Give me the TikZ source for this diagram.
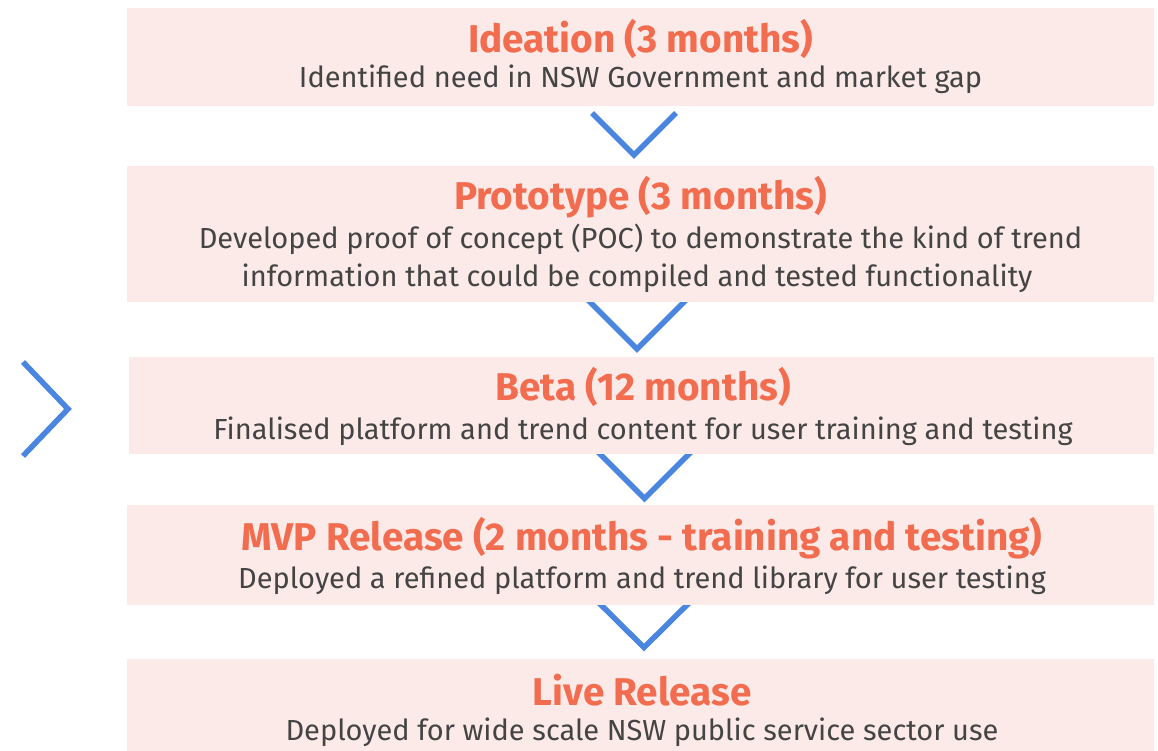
\documentclass[tikz,border=0pt]{standalone}
\usepackage{fontspec}
\setmainfont{Fira Sans}
\definecolor{boxpink}{HTML}{FBEAE7}
\definecolor{titleorange}{HTML}{F26C4F}
\definecolor{bodygrey}{HTML}{444444}
\definecolor{chevblue}{HTML}{4A86E0}
\begin{document}
\begin{tikzpicture}[x=1pt,y=-1pt,
  stagebox/.style={fill=boxpink, draw=none, rectangle, inner sep=0pt, anchor=north west},
  titletext/.style={anchor=base, inner sep=0pt, text=titleorange, font=\fontsize{38.7}{44}\selectfont\bfseries},
  bodytext/.style={anchor=base, inner sep=0pt, text=bodygrey, font=\fontsize{29}{38}\selectfont},
  chevron/.style={draw=chevblue, line width=5.5pt, line join=miter}]
\useasboundingbox (0,0) rectangle (1158,751);
% chevrons (drawn below boxes)
\draw[chevron] (592,113) -- (634,155) -- (676,113);
\draw[chevron] (578,290) -- (637,349) -- (696,290);
\draw[chevron] (591,445) -- (644.5,498.5) -- (698,445);
\draw[chevron] (591,595) -- (644,647.5) -- (697,595);
\draw[chevron] (23,362) -- (68,409) -- (23,456);
% boxes
\node[stagebox, minimum width=1027pt, minimum height=98pt] (b1) at (127,8) {};
\node[stagebox, minimum width=1027pt, minimum height=136pt] (b2) at (127,166) {};
\node[stagebox, minimum width=1025pt, minimum height=97pt] (b3) at (129,357) {};
\node[stagebox, minimum width=1027pt, minimum height=100pt] (b4) at (127,505) {};
\node[stagebox, minimum width=1027pt, minimum height=92pt] (b5) at (127,659) {};
% texts
\node[titletext] (t1) at (640.5,52.5) {Ideation (3 months)};
\node[bodytext] (d1) at (640.5,88) {Identified need in NSW Government and market gap};
\node[titletext] (t2) at (640.5,210) {Prototype (3 months)};
\node[bodytext] (d2a) at (640.5,248) {Developed proof of concept (POC) to demonstrate the kind of trend};
\node[bodytext] (d2b) at (637,286) {information that could be compiled and tested functionality};
\node[titletext] (t3) at (643,400) {Beta (12 months)};
\node[bodytext] (d3) at (643,439) {Finalised platform and trend content for user training and testing};
\node[titletext] (t4) at (642,550) {MVP Release (2 months - training and testing)};
\node[bodytext] (d4) at (642,588) {Deployed a refined platform and trend library for user testing};
\node[titletext] (t5) at (642,705) {Live Release};
\node[bodytext] (d5) at (642,740) {Deployed for wide scale NSW public service sector use};
\end{tikzpicture}
\end{document}
